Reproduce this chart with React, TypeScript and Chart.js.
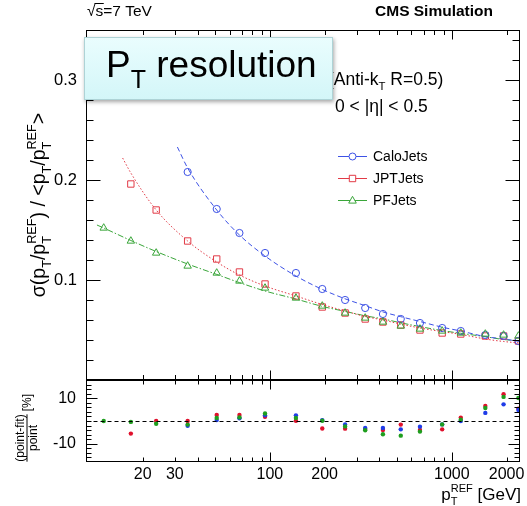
import React, { useEffect, useRef } from 'react';
import { Chart, registerables } from 'chart.js';

Chart.register(...registerables);

// ---------------- data ----------------
const caloPt = [35.3, 51, 68, 94, 139, 194, 259, 334, 418, 524, 668, 885, 1120, 1528, 1925, 2323];
const caloSigma = [0.208, 0.171, 0.147, 0.127, 0.107, 0.091, 0.080, 0.072, 0.066, 0.061, 0.057, 0.052, 0.049, 0.045, 0.044, 0.039];
const caloRes = [-2.1, 0.4, 1.2, 2.5, 2.5, 0.4, -1.5, -3.1, -3.1, -3.7, -2.5, -1.5, 0.0, 3.6, 7.4, 4.9];

const jptPt = [17.2, 23.7, 35.3, 51, 68, 94, 139, 194, 259, 334, 418, 524, 668, 885, 1120, 1528, 1925, 2323];
const jptSigma = [0.196, 0.170, 0.139, 0.121, 0.108, 0.096, 0.084, 0.073, 0.067, 0.061, 0.058, 0.055, 0.050, 0.047, 0.046, 0.044, 0.044, 0.039];
const jptRes = [-5.6, 0.0, 0.0, 2.7, 2.7, 1.9, 0.1, -3.3, -3.4, -3.6, -4.0, -1.6, -4.0, -3.7, 1.5, 6.7, 11.9, 5.5];

const pfPt = [12.2, 17.2, 23.7, 35.3, 51, 68, 94, 139, 194, 259, 334, 418, 524, 668, 885, 1120, 1528, 1925, 2323];
const pfSigma = [0.152, 0.139, 0.127, 0.114, 0.107, 0.099, 0.092, 0.082, 0.074, 0.067, 0.062, 0.058, 0.054, 0.051, 0.049, 0.047, 0.046, 0.045, 0.044];
const pfRes = [0.0, -0.4, -1.2, -1.6, 1.3, 1.6, 3.3, 1.3, 0.1, -2.4, -4.1, -5.9, -6.5, -4.7, -1.5, 0.6, 5.8, 10.7, 10.2];

// fit curves
const caloFitPt = [31, 35.3, 51, 68, 94, 139, 194, 259, 334, 418, 524, 668, 885, 1120, 1528, 1925, 2370];
const caloFit = [0.233, 0.212, 0.170, 0.145, 0.124, 0.104, 0.0906, 0.0812, 0.0743, 0.0681, 0.0633, 0.0585, 0.0528, 0.049, 0.0434, 0.041, 0.0385];
const jptFitPt = [15.5, 17.2, 23.7, 35.3, 51, 68, 94, 139, 194, 259, 334, 418, 524, 668, 885, 1120, 1528, 1925, 2370];
const jptFit = [0.222, 0.207, 0.170, 0.139, 0.118, 0.105, 0.094, 0.084, 0.0755, 0.069, 0.0635, 0.060, 0.0559, 0.052, 0.0484, 0.0456, 0.041, 0.0385, 0.037];
const pfFitPt = [11.2, 12.2, 17.2, 23.7, 35.3, 51, 68, 94, 139, 194, 259, 334, 418, 524, 668, 885, 1120, 1528, 1925, 2370];
const pfFit = [0.155, 0.152, 0.1395, 0.1285, 0.116, 0.1056, 0.0974, 0.089, 0.081, 0.0736, 0.0686, 0.0642, 0.0611, 0.0572, 0.0534, 0.0494, 0.0467, 0.0433, 0.0405, 0.0392];

const seriesNames = ['CaloJets', 'JPTJets', 'PFJets'];

const xTickLabels = [20, 30, 100, 200, 1000, 2000];
const xMajorTicks = [100, 1000];
const xMinorTicks = [20, 30, 40, 50, 60, 70, 80, 90, 200, 300, 400, 500, 600, 700, 800, 900, 2000];
const yTickLabels = [0.1, 0.2, 0.3];
const y2TickLabels = [-10, 10];

// ---------------- style ----------------
const FONT = '"Liberation Sans", Arial, Helvetica, sans-serif';
const BLUE = '#3d52e6';
const RED = '#e23a46';
const GREEN = '#3aa63a';
const BLUE_D = '#1f3ce8';
const RED_D = '#e0102c';
const GREEN_D = '#1e9e1e';

type Seg = { t?: string; sub?: string; sup?: string };

function richWidth(ctx: CanvasRenderingContext2D, segs: Seg[], size: number, weight = '') {
  let w = 0;
  for (const s of segs) {
    if (s.t !== undefined) {
      ctx.font = `${weight} ${size}px ${FONT}`;
      w += ctx.measureText(s.t).width;
    } else {
      ctx.font = `${weight} ${size * 0.65}px ${FONT}`;
      w += Math.max(s.sub ? ctx.measureText(s.sub).width : 0, s.sup ? ctx.measureText(s.sup).width : 0);
    }
  }
  return w;
}

function drawRich(ctx: CanvasRenderingContext2D, segs: Seg[], x: number, y: number, size: number, align: 'left' | 'center' | 'right', weight = '') {
  const w = richWidth(ctx, segs, size, weight);
  let cx = align === 'left' ? x : align === 'center' ? x - w / 2 : x - w;
  ctx.textAlign = 'left';
  ctx.textBaseline = 'alphabetic';
  for (const s of segs) {
    if (s.t !== undefined) {
      ctx.font = `${weight} ${size}px ${FONT}`;
      ctx.fillText(s.t, cx, y);
      cx += ctx.measureText(s.t).width;
    } else {
      ctx.font = `${weight} ${size * 0.65}px ${FONT}`;
      let ww = 0;
      if (s.sub) {
        ctx.fillText(s.sub, cx, y + size * 0.3);
        ww = ctx.measureText(s.sub).width;
      }
      if (s.sup) {
        ctx.fillText(s.sup, cx, y - size * 0.45);
        ww = Math.max(ww, ctx.measureText(s.sup).width);
      }
      cx += ww;
    }
  }
  return w;
}

function markerPath(ctx: CanvasRenderingContext2D, style: string, x: number, y: number) {
  ctx.beginPath();
  if (style === 'circle') {
    ctx.arc(x, y, 3.5, 0, Math.PI * 2);
  } else if (style === 'rect') {
    ctx.rect(x - 3.2, y - 3.2, 6.4, 6.4);
  } else {
    ctx.moveTo(x, y - 4.2);
    ctx.lineTo(x + 3.8, y + 2.6);
    ctx.lineTo(x - 3.8, y + 2.6);
    ctx.closePath();
  }
}

const overlayPlugin = {
  id: 'overlay',
  beforeDraw(chart: any) {
    const ctx = chart.ctx as CanvasRenderingContext2D;
    ctx.save();
    ctx.fillStyle = '#fff';
    ctx.fillRect(0, 0, chart.width, chart.height);
    ctx.restore();
  },
  afterDraw(chart: any) {
    const ctx = chart.ctx as CanvasRenderingContext2D;
    const xs = chart.scales.x;
    const yU = chart.scales.y;
    const yL = chart.scales.y2;
    const L = Math.round(chart.chartArea.left) + 0.5;
    const R = Math.round(chart.chartArea.right) - 0.5;
    const uT = Math.round(yU.top) + 0.5;
    const uB = Math.round(yU.bottom) - 0.5;
    const lT = Math.round(yL.top) + 0.5;
    const lB = Math.round(yL.bottom) - 0.5;

    ctx.save();
    ctx.strokeStyle = '#000';
    ctx.lineWidth = 1;

    // zero dashed line
    ctx.save();
    ctx.setLineDash([4, 3]);
    const z = Math.round(yL.getPixelForValue(0)) + 0.5;
    ctx.beginPath();
    ctx.moveTo(L, z);
    ctx.lineTo(R, z);
    ctx.stroke();
    ctx.restore();

    // frames
    ctx.strokeRect(L, uT, R - L, uB - uT);
    ctx.strokeRect(L, lT, R - L, lB - lT);

    const line = (x1: number, y1: number, x2: number, y2: number) => {
      ctx.beginPath();
      ctx.moveTo(x1, y1);
      ctx.lineTo(x2, y2);
      ctx.stroke();
    };

    // x ticks
    const xt = (v: number, len: number, lenL: number) => {
      const px = Math.round(xs.getPixelForValue(v)) + 0.5;
      line(px, uT, px, uT + len);
      line(px, uB, px, uB - len);
      line(px, lT, px, lT + lenL);
      line(px, lB, px, lB - lenL);
    };
    xMajorTicks.forEach((v) => xt(v, 9, 9));
    xMinorTicks.forEach((v) => xt(v, 4.5, 4));

    // upper y ticks
    for (let i = 1; i <= 17; i++) {
      const v = i * 0.02;
      const major = i % 5 === 0;
      const len = major ? 14 : 7;
      const py = Math.round(yU.getPixelForValue(v)) + 0.5;
      line(L, py, L + len, py);
      line(R, py, R - len, py);
    }
    // lower y ticks
    for (let v = -18; v <= 18; v += 2) {
      const major = v === 10 || v === -10;
      const len = major ? 11 : 5;
      const py = Math.round(yL.getPixelForValue(v)) + 0.5;
      if (py <= lT + 0.1 || py >= lB - 0.1) continue;
      line(L, py, L + len, py);
      line(R, py, R - len, py);
    }
    ctx.restore();

    ctx.save();
    ctx.fillStyle = '#000';

    // header texts
    ctx.font = `15.5px ${FONT}`;
    ctx.textAlign = 'left';
    ctx.textBaseline = 'alphabetic';
    const rootW = ctx.measureText('√').width;
    ctx.fillText('√s=7 TeV', 87, 15.5);
    const sW = ctx.measureText('s').width;
    ctx.lineWidth = 1;
    ctx.strokeStyle = '#000';
    ctx.beginPath();
    ctx.moveTo(87 + rootW - 1, 3.5);
    ctx.lineTo(87 + rootW + sW + 0.5, 3.5);
    ctx.stroke();

    ctx.font = `bold 15.5px ${FONT}`;
    ctx.textAlign = 'right';
    ctx.fillText('CMS Simulation', 493, 15.5);

    // jet algorithm / eta text
    drawRich(ctx, [{ t: '(Anti-k' }, { sub: 'T' }, { t: ' R=0.5)' }], 328, 85, 17.5, 'left');
    drawRich(ctx, [{ t: '0 < |η| < 0.5' }], 335, 112, 17.5, 'left');

    // legend
    const legendStyles = ['circle', 'rect', 'triangle'];
    const legendColors = [BLUE, RED, GREEN];
    const rows = [156, 178, 200];
    seriesNames.forEach((name, i) => {
      const yy = rows[i];
      ctx.strokeStyle = legendColors[i];
      ctx.lineWidth = 1;
      ctx.beginPath();
      ctx.moveTo(338, yy + 0.5);
      ctx.lineTo(367, yy + 0.5);
      ctx.stroke();
      ctx.fillStyle = '#fff';
      markerPath(ctx, legendStyles[i], 352.5, yy + 0.5);
      ctx.fill();
      ctx.stroke();
      ctx.fillStyle = '#000';
      ctx.font = `14px ${FONT}`;
      ctx.textAlign = 'left';
      ctx.textBaseline = 'middle';
      ctx.fillText(name, 373, yy + 1);
    });
    ctx.textBaseline = 'alphabetic';

    // upper y title
    ctx.save();
    ctx.translate(45, 205);
    ctx.rotate(-Math.PI / 2);
    drawRich(
      ctx,
      [{ t: 'σ(p' }, { sub: 'T' }, { t: '/p' }, { sub: 'T', sup: 'REF' }, { t: ') / <p' }, { sub: 'T' }, { t: '/p' }, { sub: 'T', sup: 'REF' }, { t: '>' }],
      0,
      0,
      19.5,
      'center'
    );
    ctx.restore();

    // lower y title (fraction)
    ctx.save();
    ctx.translate(27, 438);
    ctx.rotate(-Math.PI / 2);
    ctx.font = `12px ${FONT}`;
    const numW = ctx.measureText('(point-fit)').width;
    ctx.textAlign = 'center';
    ctx.fillText('(point-fit)', 0, -3.5);
    ctx.fillText('point', 0, 10);
    ctx.strokeStyle = '#000';
    ctx.lineWidth = 1;
    ctx.beginPath();
    ctx.moveTo(-numW / 2, 0);
    ctx.lineTo(numW / 2, 0);
    ctx.stroke();
    ctx.textAlign = 'left';
    ctx.font = `12px ${FONT}`;
    ctx.fillText('[%]', numW / 2 + 3, 4);
    ctx.restore();

    // x title
    drawRich(ctx, [{ t: 'p' }, { sub: 'T', sup: 'REF' }, { t: ' [GeV]' }], 521, 500, 17, 'right');

    // label box
    ctx.save();
    ctx.shadowColor = 'rgba(0,0,0,0.35)';
    ctx.shadowBlur = 4;
    ctx.shadowOffsetX = 1;
    ctx.shadowOffsetY = 2;
    const g = ctx.createLinearGradient(0, 37, 0, 100);
    g.addColorStop(0, '#eafdfe');
    g.addColorStop(1, '#d3f6f8');
    ctx.fillStyle = g;
    ctx.fillRect(84, 37, 249, 63);
    ctx.restore();
    ctx.strokeStyle = '#aed3d6';
    ctx.lineWidth = 1;
    ctx.strokeRect(84.5, 37.5, 248, 62);
    ctx.fillStyle = '#000';
    ctx.font = `37px ${FONT}`;
    ctx.textAlign = 'left';
    ctx.fillText('P', 106, 77);
    const pW = ctx.measureText('P').width;
    ctx.font = `25px ${FONT}`;
    ctx.fillText('T', 106 + pW, 88);
    const tW = ctx.measureText('T').width;
    ctx.font = `37px ${FONT}`;
    ctx.fillText(' resolution', 106 + pW + tW, 77);

    ctx.restore();
  },
};

function pts(xv: number[], yv: number[]) {
  return xv.map((x, i) => ({ x, y: yv[i] }));
}

export default function App() {
  const ref = useRef<HTMLCanvasElement | null>(null);
  useEffect(() => {
    if (!ref.current) return;
    const tickFont = { family: FONT, size: 16 };
    const chart = new Chart(ref.current, {
      type: 'scatter',
      data: {
        datasets: [
          { data: pts(caloFitPt, caloFit), showLine: true, borderColor: BLUE, borderWidth: 1, borderDash: [5, 3], pointRadius: 0, cubicInterpolationMode: 'monotone', yAxisID: 'y', order: 5 },
          { data: pts(jptFitPt, jptFit), showLine: true, borderColor: RED, borderWidth: 1, borderDash: [1.5, 2], pointRadius: 0, cubicInterpolationMode: 'monotone', yAxisID: 'y', order: 5 },
          { data: pts(pfFitPt, pfFit), showLine: true, borderColor: GREEN, borderWidth: 1, borderDash: [6, 2, 1.5, 2], pointRadius: 0, cubicInterpolationMode: 'monotone', yAxisID: 'y', order: 5 },
          { label: seriesNames[0], data: pts(caloPt, caloSigma), pointStyle: 'circle', pointRadius: 3.6, borderColor: BLUE, backgroundColor: 'rgba(0,0,0,0)', borderWidth: 1, yAxisID: 'y', order: 2 },
          { label: seriesNames[1], data: pts(jptPt, jptSigma), pointStyle: 'rect', pointRadius: 4.5, borderColor: RED, backgroundColor: 'rgba(0,0,0,0)', borderWidth: 1, yAxisID: 'y', order: 3 },
          { label: seriesNames[2], data: pts(pfPt, pfSigma), pointStyle: 'triangle', pointRadius: 4.3, borderColor: GREEN, backgroundColor: 'rgba(0,0,0,0)', borderWidth: 1, yAxisID: 'y', order: 1 },
          { data: pts(caloPt, caloRes), pointRadius: 2.2, borderWidth: 0, backgroundColor: BLUE_D, yAxisID: 'y2', order: 1 },
          { data: pts(jptPt, jptRes), pointRadius: 2.2, borderWidth: 0, backgroundColor: RED_D, yAxisID: 'y2', order: 2 },
          { data: pts(pfPt, pfRes), pointRadius: 2.2, borderWidth: 0, backgroundColor: GREEN_D, yAxisID: 'y2', order: 0 },
        ] as any,
      },
      options: {
        animation: false,
        responsive: false,
        maintainAspectRatio: false,
        events: [],
        layout: { padding: { top: 30, right: 7, left: 0, bottom: 0 } },
        plugins: { legend: { display: false }, tooltip: { enabled: false } },
        scales: {
          x: {
            type: 'logarithmic',
            min: 9.75,
            max: 2370,
            grid: { display: false, drawTicks: false },
            border: { display: false },
            ticks: { font: tickFont, color: '#000', padding: 3, maxRotation: 0, minRotation: 0, autoSkip: false, callback: (v: any) => String(v) },
            afterBuildTicks: (s: any) => {
              s.ticks = xTickLabels.map((v) => ({ value: v }));
            },
            afterFit: (s: any) => {
              s.height = 44;
              s.paddingLeft = 0;
              s.paddingRight = 0;
            },
          },
          y2: {
            type: 'linear',
            position: 'left',
            stack: 'panels',
            stackWeight: 82,
            min: -18.2,
            max: 18.2,
            grid: { display: false, drawTicks: false },
            border: { display: false },
            ticks: { font: { family: FONT, size: 16 }, color: '#000', padding: 10, callback: (v: any) => String(v) },
            afterBuildTicks: (s: any) => {
              s.ticks = y2TickLabels.map((v) => ({ value: v }));
            },
            afterFit: (s: any) => {
              s.width = 86;
              s.paddingTop = 0;
              s.paddingBottom = 0;
            },
          },
          y: {
            type: 'linear',
            position: 'left',
            stack: 'panels',
            stackWeight: 350,
            min: 0,
            max: 0.35,
            grid: { display: false, drawTicks: false },
            border: { display: false },
            ticks: { font: { family: FONT, size: 16.5 }, color: '#000', padding: 9, callback: (v: any) => Number(v).toFixed(1) },
            afterBuildTicks: (s: any) => {
              s.ticks = yTickLabels.map((v) => ({ value: v }));
            },
            afterFit: (s: any) => {
              s.width = 86;
              s.paddingTop = 0;
              s.paddingBottom = 0;
            },
          },
        },
      } as any,
      plugins: [overlayPlugin],
    });
    return () => chart.destroy();
  }, []);

  return (
    <div style={{ position: 'fixed', left: 0, top: 0, width: 527, height: 506, background: '#fff' }}>
      <canvas ref={ref} width={527} height={506} style={{ display: 'block', width: 527, height: 506 }} />
    </div>
  );
}
